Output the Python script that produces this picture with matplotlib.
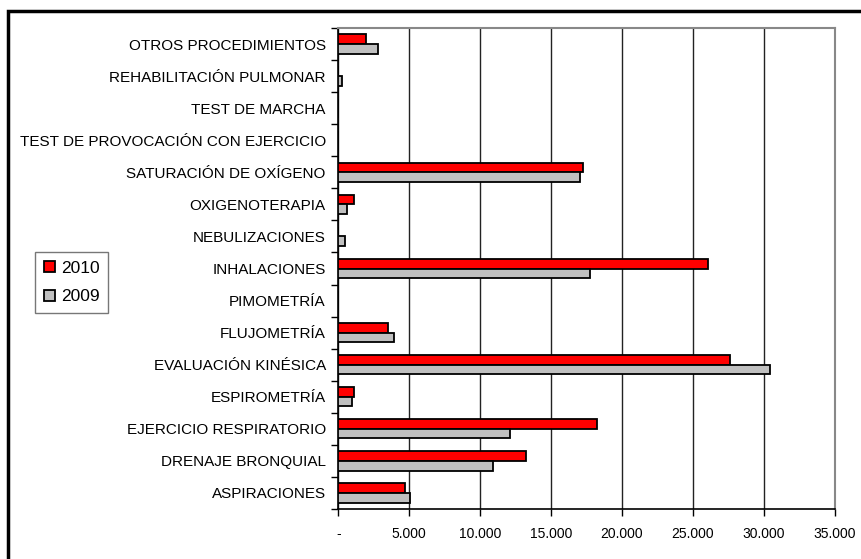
import numpy as np
import matplotlib
matplotlib.use("Agg")
import matplotlib.pyplot as plt
from matplotlib.patches import Rectangle
from matplotlib.ticker import FuncFormatter

plt.rcParams['font.family'] = ['Liberation Sans', 'DejaVu Sans']

# categories listed bottom to top
categories = [
    "ASPIRACIONES",
    "DRENAJE BRONQUIAL",
    "EJERCICIO RESPIRATORIO",
    "ESPIROMETRÍA",
    "EVALUACIÓN KINÉSICA",
    "FLUJOMETRÍA",
    "PIMOMETRÍA",
    "INHALACIONES",
    "NEBULIZACIONES",
    "OXIGENOTERAPIA",
    "SATURACIÓN DE OXÍGENO",
    "TEST DE PROVOCACIÓN CON EJERCICIO",
    "TEST DE MARCHA",
    "REHABILITACIÓN PULMONAR",
    "OTROS PROCEDIMIENTOS",
]
values_2010 = [4680, 13220, 18240, 1100, 27610, 3480, 0, 26080, 0, 1100, 17250, 0, 0, 0, 1930]
values_2009 = [5050, 10940, 12140, 960, 30450, 3940, 0, 17750, 490, 630, 17020, 0, 0, 280, 2770]
x_ticks = [0, 5000, 10000, 15000, 20000, 25000, 30000, 35000]


def miles(v, pos):
    if v == 0:
        return "-"
    return f"{int(v):,}".replace(",", ".")


fig = plt.figure(figsize=(8.62, 5.59), dpi=100)
ax = fig.add_axes([0.3925, 0.0894, 0.5758, 0.8605])

y = np.arange(len(categories))
h = 0.3
ax.barh(y + h / 2, values_2010, height=h, color="#ff0000", edgecolor="black",
        linewidth=1.3, label="2010", zorder=3)
ax.barh(y - h / 2, values_2009, height=h, color="#c0c0c0", edgecolor="black",
        linewidth=1.3, label="2009", zorder=3)

ax.set_xlim(0, 35000)
ax.set_ylim(-0.5, len(categories) - 0.5)

ax.set_xticks(x_ticks)
ax.xaxis.set_major_formatter(FuncFormatter(miles))
ax.grid(axis="x", color="#222222", linewidth=1.0, zorder=0)

# category labels centered, ticks on boundaries
ax.set_yticks(y)
ax.set_yticklabels(categories)
ax.set_yticks(np.arange(-0.5, len(categories)), minor=True)
ax.tick_params(axis="y", which="major", length=0, pad=9, labelsize=11)
ax.tick_params(axis="y", which="minor", length=5, width=1, direction="out")
ax.tick_params(axis="x", length=5, width=1, direction="out", labelsize=10, pad=8)

for side in ["left", "bottom"]:
    ax.spines[side].set_color("black")
    ax.spines[side].set_linewidth(1.2)
for side in ["top", "right"]:
    ax.spines[side].set_color("#888888")
    ax.spines[side].set_linewidth(1.5)

leg = ax.legend(loc="center left", bbox_to_anchor=(-0.611, 0.471), bbox_transform=ax.transAxes,
                fontsize=12.5, handlelength=0.65, handleheight=0.65, handletextpad=0.35,
                labelspacing=0.8, borderpad=0.5, borderaxespad=0, fancybox=False,
                edgecolor="#777777", framealpha=1)
leg.get_frame().set_linewidth(1.0)

# outer chart border (runs off the right and bottom edges)
fig.add_artist(Rectangle((8.5 / 862, -0.1), 1.2, 1 - 10.5 / 559 + 0.1, transform=fig.transFigure,
                         fill=False, edgecolor="black", linewidth=2.5))

fig.savefig("out.png", dpi=100)
